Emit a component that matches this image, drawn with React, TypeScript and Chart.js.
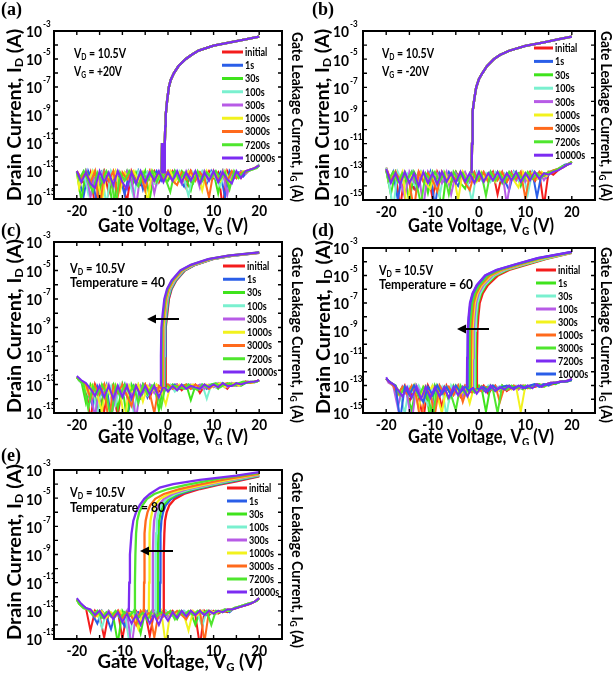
import React, { useEffect, useRef } from "react";
import { Chart, registerables } from "chart.js";

Chart.register(...registerables);

// ---------------- data ----------------
const SERIES = ["initial", "1s", "30s", "100s", "300s", "1000s", "3000s", "7200s", "10000s"];

const RED = "#f41c1c";
const BLUE = "#2a5ee8";
const GREEN = "#3fe31c";
const AQUA = "#7af0cf";
const ORCHID = "#b75be6";
const YELLOW = "#f2f21e";
const ORANGE = "#ff6a1c";
const GREEN2 = "#4fe62e";
const VIOLET = "#7c2cf2";

const COLORS_STD = [RED, BLUE, GREEN, AQUA, ORCHID, YELLOW, ORANGE, GREEN2, VIOLET];
const COLORS_D = [RED, GREEN, AQUA, ORCHID, YELLOW, ORANGE, GREEN2, VIOLET, BLUE];

const X_LABELS = [-20, -10, 0, 10, 20];
const X_MARKS = [-20, -15, -10, -5, 0, 5, 10, 15, 20];
const Y_LABELS = [-15, -13, -11, -9, -7, -5, -3];
const Y_MARKS = [-14, -13, -12, -11, -10, -9, -8, -7, -6, -5, -4];

// gate-voltage sampling of the gate leakage traces
const VG_INT = [-20, -19, -18, -17, -16, -15, -14, -13, -12, -11, -10, -9, -8, -7, -6, -5, -4, -3, -2, -1, 0, 1, 2, 3, 4, 5, 6, 7, 8, 9, 10, 11, 12, 13, 14, 15, 16, 17, 18, 19, 20];
const VG_HALF = [-20, -19.5, -18.5, -17.5, -16.5, -15.5, -14.5, -13.5, -12.5, -11.5, -10.5, -9.5, -8.5, -7.5, -6.5, -5.5, -4.5, -3.5, -2.5, -1.5, -0.5, 0.5, 1.5, 2.5, 3.5, 4.5, 5.5, 6.5, 7.5, 8.5, 9.5, 10.5, 11.5, 12.5, 13.5, 14.5, 15.5, 16.5, 17.5, 18.5, 19.5, 20];

// Drain current transfer curves: [VG, log10(ID)]
const ID_A = [[-1.4, -13.1], [-1.3, -11.0], [-1.2, -13.1], [-0.8, -13.1], [-0.7, -11.0], [-0.6, -9.8], [-0.5, -9.0], [-0.2, -8.0], [0.2, -7.0], [0.6, -6.5], [1.3, -6.0], [2.3, -5.5], [3.9, -5.0], [5.2, -4.7], [6.7, -4.4], [10, -4.05], [13.9, -3.8], [17, -3.6], [20, -3.4]];
const ID_B = [[-1.6, -13.1], [-1.5, -11.0], [-1.45, -9.5], [-1.3, -8.7], [-1.0, -7.8], [-0.6, -7.0], [0.0, -6.4], [0.7, -6.0], [1.7, -5.5], [3.2, -5.0], [4.5, -4.7], [6.5, -4.4], [10, -4.05], [14, -3.8], [17, -3.6], [20, -3.4]];

const ID_C = [
  [[-0.6, -13.1], [-0.55, -11], [-0.45, -9], [-0.15, -8], [0.2, -7], [0.8, -6.3], [1.8, -5.7], [3.7, -5.0], [6.0, -4.6], [9.8, -4.2], [14, -3.98], [20, -3.76]],
  [[-0.7, -13.1], [-0.65, -11], [-0.55, -9], [-0.25, -8], [0.1, -7], [0.7, -6.3], [1.7, -5.7], [3.6, -5.0], [5.9, -4.6], [9.7, -4.2], [13.9, -3.98], [20, -3.76]],
  [[-0.8, -13.1], [-0.75, -11], [-0.65, -9], [-0.35, -8], [0.0, -7], [0.6, -6.3], [1.6, -5.7], [3.5, -5.0], [5.8, -4.6], [9.6, -4.2], [13.8, -3.98], [20, -3.75]],
  [[-0.9, -13.1], [-0.85, -11], [-0.75, -9], [-0.45, -8], [-0.1, -7], [0.5, -6.3], [1.5, -5.7], [3.4, -5.0], [5.7, -4.6], [9.5, -4.2], [13.7, -3.97], [20, -3.75]],
  [[-1.0, -13.1], [-0.95, -11], [-0.85, -9], [-0.55, -8], [-0.2, -7], [0.4, -6.3], [1.4, -5.7], [3.3, -5.0], [5.6, -4.6], [9.4, -4.2], [13.6, -3.97], [20, -3.75]],
  [[-1.15, -13.1], [-1.1, -11], [-1.0, -9], [-0.7, -8], [-0.35, -7], [0.25, -6.3], [1.25, -5.7], [3.15, -5.0], [5.45, -4.6], [9.25, -4.2], [13.5, -3.96], [20, -3.74]],
  [[-1.3, -13.1], [-1.25, -11], [-1.15, -9], [-0.85, -8], [-0.5, -7], [0.1, -6.3], [1.1, -5.7], [3.0, -5.0], [5.3, -4.6], [9.1, -4.2], [13.4, -3.96], [20, -3.74]],
  [[-1.45, -13.1], [-1.4, -11], [-1.3, -9], [-1.0, -8], [-0.65, -7], [-0.05, -6.3], [0.95, -5.7], [2.85, -5.0], [5.15, -4.6], [8.95, -4.2], [13.3, -3.95], [20, -3.73]],
  [[-1.6, -13.1], [-1.55, -11], [-1.45, -9], [-1.15, -8], [-0.8, -7], [-0.2, -6.3], [0.8, -5.7], [2.7, -5.0], [5.0, -4.6], [8.8, -4.2], [13.2, -3.95], [20, -3.73]],
];

const ID_D = [
  [[-0.5, -13.1], [-0.45, -11], [-0.35, -9], [-0.15, -8], [0.15, -7], [0.8, -6.3], [1.9, -5.7], [4.1, -5.0], [6.5, -4.6], [10.5, -4.2], [14.5, -3.8], [20, -3.35]],
  [[-0.8, -13.1], [-0.75, -11], [-0.65, -9], [-0.45, -8], [-0.15, -7], [0.45, -6.3], [1.5, -5.7], [3.6, -5.0], [6.0, -4.6], [10, -4.2], [14.2, -3.8], [20, -3.34]],
  [[-1.0, -13.1], [-0.95, -11], [-0.85, -9], [-0.65, -8], [-0.35, -7], [0.25, -6.3], [1.25, -5.7], [3.3, -5.0], [5.7, -4.6], [9.7, -4.2], [14, -3.79], [20, -3.33]],
  [[-1.3, -13.1], [-1.25, -11], [-1.15, -9], [-0.95, -8], [-0.65, -7], [-0.1, -6.3], [0.9, -5.7], [2.9, -5.0], [5.3, -4.6], [9.3, -4.2], [13.7, -3.78], [20, -3.32]],
  [[-1.55, -13.1], [-1.5, -11], [-1.4, -9], [-1.2, -8], [-0.9, -7], [-0.35, -6.3], [0.6, -5.7], [2.6, -5.0], [5.0, -4.6], [9.0, -4.2], [13.5, -3.77], [20, -3.31]],
  [[-1.8, -13.1], [-1.75, -11], [-1.65, -9], [-1.45, -8], [-1.15, -7], [-0.6, -6.3], [0.35, -5.7], [2.3, -5.0], [4.7, -4.6], [8.7, -4.2], [13.2, -3.76], [20, -3.3]],
  [[-2.1, -13.1], [-2.05, -11], [-1.95, -9], [-1.75, -8], [-1.45, -7], [-0.9, -6.3], [0.05, -5.7], [1.9, -5.0], [4.3, -4.6], [8.3, -4.2], [13, -3.75], [20, -3.3]],
  [[-2.6, -13.1], [-2.55, -11], [-2.45, -9], [-2.25, -8], [-1.95, -7], [-1.4, -6.3], [-0.5, -5.7], [1.3, -5.0], [3.7, -4.6], [7.7, -4.2], [12.6, -3.74], [20, -3.28]],
  [[-2.5, -13.1], [-2.45, -11], [-2.35, -9], [-2.15, -8], [-1.85, -7], [-1.3, -6.3], [-0.4, -5.7], [1.4, -5.0], [3.8, -4.6], [7.8, -4.2], [12.7, -3.74], [20, -3.28]],
];

const ID_E = [
  [[-1.0, -13.1], [-0.95, -11], [-0.9, -9], [-0.8, -7.5], [-0.65, -6.6], [-0.3, -6.0], [0.3, -5.5], [1.5, -5.05], [3.5, -4.7], [7, -4.35], [11, -4.05], [15, -3.8], [20, -3.45]],
  [[-1.8, -13.1], [-1.75, -11], [-1.7, -9], [-1.6, -7.5], [-1.45, -6.6], [-1.1, -6.0], [-0.5, -5.5], [0.7, -5.05], [2.7, -4.7], [6.2, -4.35], [10.3, -4.05], [14.6, -3.78], [20, -3.42]],
  [[-2.3, -13.1], [-2.25, -11], [-2.2, -9], [-2.1, -7.5], [-1.95, -6.6], [-1.6, -6.0], [-1.0, -5.5], [0.2, -5.05], [2.2, -4.7], [5.7, -4.35], [9.8, -4.05], [14.3, -3.76], [20, -3.4]],
  [[-2.8, -13.1], [-2.75, -11], [-2.7, -9], [-2.6, -7.5], [-2.45, -6.6], [-2.1, -6.0], [-1.5, -5.5], [-0.3, -5.05], [1.6, -4.7], [5.1, -4.35], [9.2, -4.05], [14, -3.74], [20, -3.37]],
  [[-3.4, -13.1], [-3.35, -11], [-3.3, -9], [-3.2, -7.5], [-3.05, -6.6], [-2.7, -6.0], [-2.1, -5.5], [-0.9, -5.05], [1.0, -4.7], [4.4, -4.35], [8.6, -4.05], [13.6, -3.72], [20, -3.34]],
  [[-4.2, -13.1], [-4.15, -11], [-4.1, -9], [-4.0, -7.5], [-3.85, -6.6], [-3.5, -6.0], [-2.9, -5.5], [-1.7, -5.05], [0.2, -4.7], [3.6, -4.35], [7.8, -4.05], [13.2, -3.7], [20, -3.3]],
  [[-5.3, -13.1], [-5.25, -11], [-5.2, -9], [-5.1, -7.5], [-4.9, -6.6], [-4.5, -6.0], [-3.9, -5.5], [-2.8, -5.05], [-0.9, -4.7], [2.5, -4.35], [6.6, -4.05], [12.5, -3.66], [20, -3.26]],
  [[-7.3, -13.1], [-7.25, -11], [-7.15, -9], [-7.0, -7.5], [-6.75, -6.6], [-6.3, -6.0], [-5.6, -5.5], [-4.6, -5.05], [-3.0, -4.7], [0.0, -4.35], [4.0, -4.05], [11.5, -3.6], [20, -3.2]],
  [[-8.6, -13.1], [-8.5, -11], [-8.35, -9], [-8.0, -7.5], [-7.6, -6.6], [-7.0, -6.0], [-6.2, -5.5], [-5.2, -5.05], [-4.0, -4.7], [-1.8, -4.25], [1.1, -4.0], [7, -3.7], [15, -3.4], [20, -3.15]],
];

// Gate leakage current, log10(IG); even series on VG_INT, odd series on VG_HALF
const IG_A = [
  [-13.0, -13.6, -14.1, -13.1, -15.6, -13.7, -13.0, -14.6, -13.5, -13.1, -13.8, -15.2, -13.0, -13.7, -14.0, -13.1, -13.6, -13.0, -13.8, -13.1, -13.6, -13.0, -13.5, -13.1, -14.2, -13.0, -13.6, -13.1, -13.7, -13.0, -13.5, -13.1, -15.6, -13.0, -13.6, -13.1, -13.5, -13.0, -12.9, -12.8, -12.6],
  [-13.1, -13.7, -14.8, -13.0, -13.8, -15.4, -13.1, -13.6, -13.9, -13.0, -13.5, -14.7, -13.1, -13.8, -13.0, -14.3, -13.1, -13.6, -13.0, -13.7, -13.1, -13.5, -13.0, -13.6, -14.1, -13.0, -13.7, -13.1, -13.5, -13.9, -13.0, -13.6, -13.1, -14.9, -13.0, -13.5, -13.1, -13.4, -13.0, -12.9, -12.7, -12.6],
  [-13.1, -15.1, -13.0, -13.7, -13.1, -14.5, -13.0, -13.6, -15.8, -13.1, -13.7, -13.0, -14.2, -13.1, -13.8, -13.0, -15.0, -13.1, -13.6, -13.0, -13.7, -13.1, -13.5, -13.0, -13.6, -14.4, -13.1, -13.7, -13.0, -13.5, -13.1, -14.6, -13.0, -13.6, -13.1, -13.5, -13.0, -13.2, -12.9, -12.8, -12.6],
  [-13.0, -13.8, -13.1, -14.6, -13.0, -13.7, -13.1, -15.5, -13.0, -13.6, -13.9, -13.1, -13.7, -14.9, -13.0, -13.6, -13.1, -13.8, -14.0, -13.0, -13.6, -13.1, -13.7, -13.0, -13.5, -14.8, -13.1, -13.6, -13.0, -13.7, -13.1, -13.5, -14.1, -13.0, -13.6, -13.1, -13.4, -13.0, -13.0, -12.9, -12.7, -12.5],
  [-13.1, -13.7, -13.0, -14.9, -13.1, -13.8, -13.0, -13.6, -14.3, -13.1, -13.7, -13.0, -13.6, -15.6, -13.1, -13.7, -13.0, -14.6, -13.1, -13.6, -13.0, -13.7, -13.1, -13.9, -13.0, -13.6, -13.1, -14.2, -13.0, -13.5, -13.1, -13.7, -13.0, -14.7, -13.1, -13.5, -13.0, -13.2, -12.9, -12.8, -12.6],
  [-13.0, -14.2, -13.1, -13.7, -13.0, -13.6, -15.2, -13.1, -13.8, -13.0, -14.4, -13.1, -13.6, -13.0, -13.7, -13.1, -15.3, -13.0, -13.6, -13.1, -13.7, -13.0, -13.8, -13.1, -13.6, -13.0, -13.5, -13.1, -14.4, -13.0, -13.6, -13.1, -13.7, -13.0, -13.9, -13.1, -13.5, -13.0, -13.0, -12.9, -12.7, -12.6],
  [-13.0, -13.5, -13.1, -13.8, -13.0, -15.9, -13.1, -13.7, -13.0, -14.8, -13.1, -13.6, -13.0, -13.8, -13.1, -14.4, -13.0, -13.7, -13.1, -13.6, -13.0, -13.7, -14.0, -13.1, -13.6, -13.0, -13.7, -13.1, -13.5, -14.9, -13.0, -13.6, -13.1, -13.7, -13.0, -13.5, -13.1, -13.1, -12.9, -12.8, -12.6],
  [-13.1, -13.6, -13.0, -13.7, -14.5, -13.1, -13.8, -13.0, -13.6, -15.6, -13.1, -13.7, -13.0, -13.6, -14.1, -13.1, -13.7, -13.0, -13.8, -13.1, -13.6, -14.5, -13.0, -13.7, -13.1, -13.6, -13.9, -13.0, -13.7, -13.1, -13.5, -13.0, -13.6, -13.1, -14.3, -13.0, -13.5, -13.1, -13.0, -12.9, -12.8, -12.6],
  [-13.0, -13.8, -13.1, -13.9, -14.2, -13.0, -13.8, -13.1, -14.0, -13.0, -13.8, -14.3, -13.1, -13.9, -13.0, -13.8, -13.1, -13.7, -13.0, -13.8, -13.1, -13.7, -13.0, -13.8, -13.1, -13.7, -13.0, -13.9, -13.1, -13.7, -13.0, -13.8, -13.1, -13.6, -13.9, -13.0, -13.5, -13.0, -12.9, -12.8, -12.6],
];

const IG_B = [
  [-12.7, -13.6, -13.0, -15.6, -13.1, -13.7, -14.2, -13.0, -13.6, -13.1, -14.9, -13.0, -13.7, -13.1, -13.8, -13.0, -13.6, -13.1, -13.7, -13.0, -13.6, -13.1, -13.5, -13.0, -14.6, -13.1, -13.7, -13.0, -13.6, -13.1, -13.5, -13.0, -13.7, -13.1, -15.4, -13.0, -13.2, -12.9, -12.7, -12.5, -12.3],
  [-12.8, -13.7, -13.0, -15.0, -13.1, -13.6, -13.0, -14.4, -13.1, -13.8, -13.0, -15.5, -13.1, -13.7, -13.0, -13.6, -14.0, -13.1, -13.7, -13.0, -13.6, -13.1, -13.5, -13.0, -13.7, -13.1, -13.6, -14.3, -13.0, -13.6, -13.1, -13.5, -13.0, -14.8, -13.1, -13.4, -13.0, -12.9, -12.7, -12.5, -12.4, -12.3],
  [-12.9, -14.6, -13.0, -13.7, -13.1, -15.2, -13.0, -13.6, -13.1, -14.5, -13.0, -13.7, -15.7, -13.1, -13.6, -13.0, -13.8, -14.2, -13.1, -13.6, -13.0, -13.7, -13.1, -13.6, -13.0, -13.8, -13.1, -13.5, -13.0, -14.0, -13.1, -13.6, -13.0, -13.5, -13.1, -13.2, -12.9, -12.8, -12.6, -12.5, -12.3],
  [-12.7, -13.6, -15.6, -13.0, -13.7, -13.1, -13.6, -14.1, -13.0, -13.8, -13.1, -13.6, -14.7, -13.0, -13.7, -13.1, -13.6, -13.0, -13.7, -15.1, -13.0, -13.6, -13.1, -13.7, -13.0, -13.6, -13.1, -13.5, -13.0, -13.6, -13.1, -14.6, -13.0, -13.5, -13.1, -13.3, -13.0, -12.9, -12.7, -12.6, -12.4, -12.3],
  [-12.8, -13.7, -13.1, -13.6, -14.8, -13.0, -13.7, -13.1, -15.5, -13.0, -13.6, -13.1, -13.8, -13.0, -14.6, -13.1, -13.6, -13.0, -13.7, -13.1, -13.6, -13.0, -13.7, -13.1, -13.5, -13.0, -15.3, -13.1, -13.6, -13.0, -13.7, -13.1, -13.5, -13.0, -13.6, -13.1, -13.0, -12.8, -12.7, -12.5, -12.3],
  [-12.8, -13.6, -13.1, -13.7, -13.0, -15.8, -13.1, -13.6, -13.0, -13.8, -14.2, -13.1, -13.6, -13.0, -13.7, -13.1, -15.0, -13.0, -13.6, -13.1, -13.7, -13.0, -13.6, -13.1, -13.7, -13.0, -13.5, -13.1, -13.6, -14.1, -13.0, -13.6, -13.1, -13.5, -13.0, -13.3, -13.0, -12.9, -12.7, -12.6, -12.4, -12.3],
  [-12.9, -13.7, -13.0, -13.6, -13.1, -13.8, -15.7, -13.0, -13.7, -13.1, -13.6, -14.4, -13.0, -13.7, -13.1, -13.6, -13.0, -13.8, -14.3, -13.1, -13.6, -13.0, -13.7, -13.1, -13.6, -13.0, -13.7, -13.1, -13.5, -13.0, -14.9, -13.1, -13.6, -13.0, -13.3, -13.0, -12.9, -12.8, -12.7, -12.5, -12.3],
  [-12.9, -13.6, -13.0, -13.7, -13.1, -13.6, -13.0, -13.8, -15.3, -13.1, -13.6, -13.0, -13.7, -13.1, -14.6, -13.0, -13.6, -13.1, -13.7, -13.0, -13.6, -13.1, -14.7, -13.0, -13.6, -13.1, -13.7, -13.0, -13.5, -13.1, -13.6, -13.0, -13.5, -13.1, -13.4, -13.1, -13.0, -12.9, -12.7, -12.6, -12.4, -12.3],
  [-12.8, -13.8, -13.1, -13.9, -13.0, -13.8, -13.1, -14.0, -13.0, -13.8, -13.1, -13.9, -13.0, -13.7, -13.1, -13.8, -13.0, -13.7, -13.1, -13.8, -13.0, -13.7, -13.1, -13.6, -13.0, -13.7, -13.1, -13.6, -13.0, -13.7, -13.1, -13.6, -13.0, -13.5, -13.1, -13.2, -13.0, -12.9, -12.7, -12.5, -12.4],
];

const IG_C = [
  [-12.5, -12.8, -13.1, -15.6, -13.0, -13.8, -14.9, -13.1, -13.7, -15.2, -13.0, -13.8, -14.1, -13.1, -13.7, -13.0, -13.9, -13.1, -13.5, -13.0, -13.4, -13.1, -13.0, -13.4, -13.1, -13.3, -13.0, -13.6, -13.1, -13.3, -13.0, -13.2, -13.0, -13.3, -12.9, -13.1, -12.9, -12.8, -12.9, -12.8, -12.7],
  [-12.5, -12.7, -13.0, -13.6, -14.5, -13.1, -13.7, -13.0, -15.4, -13.1, -13.8, -13.0, -14.6, -13.1, -13.7, -13.0, -13.9, -13.1, -13.6, -13.0, -13.4, -13.1, -13.0, -13.3, -13.1, -13.0, -13.3, -13.1, -13.0, -13.3, -13.0, -13.2, -12.9, -13.2, -13.0, -12.9, -13.1, -12.9, -12.8, -12.9, -12.8, -12.7],
  [-12.5, -12.8, -14.3, -13.0, -13.7, -15.7, -13.1, -13.6, -13.0, -14.7, -13.1, -15.5, -13.0, -13.7, -14.0, -13.1, -13.6, -13.0, -14.8, -13.1, -13.3, -13.0, -13.4, -13.1, -13.0, -14.1, -13.1, -13.3, -13.0, -13.2, -13.0, -13.3, -12.9, -13.1, -13.0, -12.9, -13.1, -12.9, -12.8, -12.8, -12.7],
  [-12.5, -12.7, -13.0, -13.7, -13.1, -15.3, -13.0, -13.8, -13.1, -14.4, -13.0, -13.7, -13.1, -15.0, -13.0, -13.6, -13.8, -13.1, -13.6, -13.0, -13.3, -13.0, -13.5, -13.1, -13.3, -13.0, -13.2, -13.3, -13.0, -14.0, -13.0, -13.2, -12.9, -13.1, -13.0, -12.9, -13.1, -12.9, -12.8, -12.9, -12.8, -12.7],
  [-12.5, -12.8, -13.0, -13.7, -15.2, -13.1, -13.8, -13.0, -14.6, -13.1, -13.7, -13.0, -13.6, -15.4, -13.1, -13.7, -13.0, -13.6, -13.1, -13.5, -13.0, -13.3, -13.0, -13.2, -13.3, -13.0, -13.2, -13.0, -13.3, -13.0, -13.2, -12.9, -13.1, -13.2, -12.9, -13.1, -12.9, -12.8, -12.9, -12.8, -12.7],
  [-12.5, -12.7, -12.9, -13.6, -13.0, -13.7, -14.9, -13.1, -13.8, -13.0, -13.6, -15.6, -13.1, -13.7, -13.0, -14.2, -13.1, -13.5, -13.0, -13.4, -14.4, -13.1, -13.3, -13.0, -13.2, -13.1, -13.0, -13.3, -13.1, -13.0, -13.2, -13.0, -12.9, -13.2, -13.0, -12.9, -13.1, -12.9, -12.8, -12.9, -12.8, -12.7],
  [-12.5, -12.8, -13.0, -14.0, -13.1, -13.7, -13.0, -15.8, -13.1, -13.6, -13.0, -13.8, -14.5, -13.1, -13.7, -13.0, -13.6, -15.0, -13.1, -13.4, -13.0, -13.3, -13.1, -13.2, -13.0, -13.3, -13.0, -13.2, -13.0, -13.3, -13.0, -13.2, -13.0, -12.9, -13.1, -13.0, -12.9, -12.8, -12.9, -12.8, -12.7],
  [-12.5, -12.7, -13.0, -14.7, -13.1, -13.7, -13.0, -13.6, -15.5, -13.1, -13.8, -13.0, -13.6, -13.1, -14.3, -13.0, -13.7, -13.1, -13.5, -14.6, -13.0, -13.3, -13.1, -13.2, -13.3, -13.0, -13.2, -13.4, -13.0, -13.2, -13.0, -12.9, -13.2, -13.0, -12.9, -13.1, -12.9, -12.8, -12.9, -12.8, -12.8, -12.7],
  [-12.4, -12.7, -12.9, -13.3, -13.8, -13.1, -13.9, -13.1, -14.0, -13.1, -13.9, -13.1, -14.0, -13.1, -13.8, -13.1, -13.7, -13.1, -13.9, -13.1, -13.5, -13.1, -13.4, -13.0, -13.3, -13.1, -13.2, -13.3, -13.0, -13.2, -13.0, -13.2, -12.9, -13.1, -13.1, -12.9, -13.0, -12.9, -12.8, -12.8, -12.7],
];

const IG_D = [
  [-12.5, -12.8, -13.1, -13.7, -13.0, -14.2, -13.1, -13.8, -15.5, -13.0, -13.7, -13.1, -14.6, -13.0, -13.7, -13.1, -13.8, -13.0, -13.5, -13.1, -13.4, -13.0, -13.6, -13.1, -13.3, -13.0, -13.4, -13.1, -13.2, -13.0, -13.2, -13.0, -13.1, -13.0, -12.9, -13.0, -12.9, -12.8, -12.7, -12.7, -12.6],
  [-12.5, -12.7, -13.0, -13.6, -13.1, -13.7, -14.8, -13.0, -13.6, -13.1, -15.6, -13.0, -13.7, -13.1, -14.1, -13.0, -13.6, -13.1, -13.7, -13.0, -13.5, -13.1, -14.9, -13.0, -13.4, -13.1, -13.3, -13.0, -13.2, -13.1, -13.3, -13.0, -13.1, -12.9, -13.1, -12.9, -12.8, -12.9, -12.7, -12.7, -12.6, -12.5],
  [-12.5, -12.8, -13.0, -13.7, -15.0, -13.1, -13.6, -13.0, -13.8, -14.4, -13.0, -13.7, -13.1, -15.2, -13.0, -13.6, -13.1, -13.7, -13.0, -13.5, -13.1, -13.4, -13.0, -13.3, -13.1, -13.0, -13.3, -13.1, -13.0, -13.2, -13.0, -13.1, -12.9, -13.1, -12.9, -13.0, -12.8, -12.8, -12.7, -12.7, -12.6],
  [-12.5, -12.8, -13.0, -14.6, -13.1, -13.7, -15.7, -13.0, -13.6, -13.1, -13.7, -14.5, -13.0, -13.6, -13.1, -13.7, -13.0, -13.8, -13.1, -13.5, -13.0, -13.4, -13.1, -13.3, -13.0, -13.4, -13.1, -13.2, -13.0, -13.3, -13.0, -13.1, -13.0, -12.9, -13.1, -12.9, -12.8, -12.8, -12.7, -12.7, -12.6, -12.5],
  [-12.5, -12.8, -13.0, -13.6, -13.1, -13.7, -13.0, -14.7, -13.1, -13.6, -13.0, -13.7, -15.0, -13.1, -13.6, -13.0, -13.7, -13.1, -14.3, -13.0, -13.4, -13.1, -13.3, -13.0, -13.4, -13.1, -13.0, -13.3, -13.1, -14.9, -13.0, -13.2, -13.0, -12.9, -13.1, -12.9, -12.8, -12.8, -12.7, -12.7, -12.6],
  [-12.5, -12.7, -13.0, -13.7, -13.1, -13.6, -13.0, -13.8, -15.8, -13.1, -13.7, -15.1, -13.0, -13.6, -13.1, -13.7, -13.0, -14.2, -13.1, -13.5, -13.0, -13.4, -13.1, -13.3, -13.0, -14.2, -13.1, -13.3, -13.0, -13.2, -13.0, -13.2, -13.0, -12.9, -13.1, -12.9, -12.8, -12.8, -12.7, -12.7, -12.6, -12.5],
  [-12.5, -12.8, -13.0, -13.7, -13.1, -13.6, -13.0, -13.8, -13.1, -13.7, -15.4, -13.0, -13.6, -13.1, -13.7, -14.8, -13.0, -13.6, -13.1, -13.5, -13.0, -13.4, -13.1, -13.3, -15.0, -13.0, -13.3, -13.0, -13.2, -13.1, -13.0, -13.2, -13.0, -12.9, -13.1, -12.9, -12.8, -12.8, -12.7, -12.7, -12.6],
  [-12.4, -12.7, -12.9, -13.3, -13.8, -13.1, -13.9, -13.1, -14.0, -13.1, -13.9, -13.1, -13.8, -13.1, -13.9, -13.1, -13.7, -13.1, -13.8, -13.1, -13.6, -13.1, -13.5, -13.0, -13.4, -13.1, -13.3, -13.0, -13.3, -13.0, -13.2, -13.0, -13.2, -12.9, -13.1, -12.9, -12.8, -12.8, -12.7, -12.7, -12.6, -12.5],
  [-12.5, -12.8, -13.0, -15.5, -13.1, -13.7, -13.0, -13.6, -14.2, -13.1, -13.7, -13.0, -13.6, -13.1, -13.7, -13.0, -13.5, -13.1, -13.4, -13.0, -13.3, -13.1, -13.4, -13.0, -13.3, -13.1, -13.0, -13.2, -13.1, -13.0, -13.2, -13.0, -12.9, -13.1, -12.9, -13.0, -12.8, -12.8, -12.7, -12.7, -12.6],
];

const IG_E = [
  [-12.2, -12.6, -12.8, -14.4, -13.0, -13.4, -14.9, -13.1, -13.4, -13.0, -15.0, -13.1, -13.4, -13.0, -13.5, -13.1, -14.8, -13.0, -13.4, -13.1, -13.3, -13.0, -13.4, -13.1, -13.3, -13.0, -13.3, -15.5, -13.0, -13.3, -13.0, -13.2, -13.0, -13.1, -12.9, -12.8, -12.7, -12.6, -12.5, -12.35, -12.1],
  [-12.2, -12.5, -12.8, -12.9, -13.3, -13.9, -13.0, -13.4, -14.3, -13.1, -13.5, -14.1, -13.0, -13.4, -13.1, -13.5, -13.0, -13.4, -13.1, -13.3, -13.0, -13.4, -13.1, -13.3, -13.0, -13.3, -13.1, -13.2, -13.0, -13.3, -13.0, -13.2, -13.0, -12.9, -13.1, -12.8, -12.7, -12.6, -12.5, -12.4, -12.3, -12.1],
  [-12.2, -12.6, -12.8, -13.0, -13.4, -13.1, -13.6, -13.0, -13.4, -15.3, -13.0, -13.5, -13.1, -13.4, -14.6, -13.0, -13.4, -13.1, -13.5, -13.0, -13.4, -13.1, -13.6, -13.0, -13.3, -13.1, -14.0, -13.0, -13.3, -13.0, -13.2, -13.0, -13.1, -13.0, -12.9, -12.8, -12.7, -12.6, -12.5, -12.35, -12.1],
  [-12.2, -12.5, -12.8, -12.9, -13.3, -13.0, -14.2, -13.1, -13.4, -13.0, -13.5, -13.1, -15.2, -13.0, -13.4, -13.1, -13.5, -13.0, -13.4, -13.6, -13.0, -13.4, -13.1, -13.3, -13.0, -13.3, -13.1, -13.2, -14.1, -13.0, -13.2, -13.0, -13.1, -12.9, -13.0, -12.8, -12.7, -12.6, -12.5, -12.4, -12.3, -12.1],
  [-12.2, -12.6, -12.8, -13.0, -13.4, -13.1, -13.5, -13.0, -13.4, -13.1, -13.6, -13.0, -15.6, -13.1, -13.5, -13.0, -13.4, -13.1, -13.5, -13.0, -13.4, -13.1, -13.3, -13.0, -13.3, -13.1, -13.2, -13.0, -13.3, -13.0, -13.2, -13.0, -13.1, -12.9, -12.9, -12.8, -12.7, -12.6, -12.5, -12.35, -12.1],
  [-12.2, -12.5, -12.8, -12.9, -13.0, -13.4, -13.0, -13.5, -13.1, -13.4, -13.0, -13.5, -13.1, -13.4, -14.3, -13.0, -13.4, -13.1, -13.5, -13.0, -15.4, -13.1, -13.3, -13.0, -13.3, -14.4, -13.0, -13.3, -13.0, -13.2, -13.0, -13.2, -13.0, -12.9, -13.0, -12.8, -12.7, -12.6, -12.5, -12.4, -12.3, -12.1],
  [-12.2, -12.6, -12.8, -13.0, -13.4, -13.0, -13.5, -13.1, -13.4, -13.0, -13.5, -13.1, -13.4, -14.0, -13.0, -13.4, -13.1, -14.9, -13.0, -13.4, -13.1, -13.3, -13.0, -13.3, -13.6, -13.0, -13.3, -13.0, -15.2, -13.0, -13.2, -13.0, -13.1, -12.9, -12.9, -12.8, -12.7, -12.6, -12.5, -12.35, -12.1],
  [-12.2, -12.5, -12.8, -12.9, -13.3, -13.0, -13.5, -13.1, -13.4, -13.0, -13.5, -13.1, -13.4, -13.0, -13.5, -13.1, -13.7, -13.0, -13.4, -13.1, -13.3, -13.0, -13.6, -13.0, -13.3, -13.0, -13.3, -13.0, -13.2, -13.0, -14.0, -13.0, -13.1, -12.9, -13.0, -12.8, -12.7, -12.6, -12.5, -12.4, -12.3, -12.1],
  [-12.1, -12.5, -12.8, -12.9, -13.3, -13.0, -13.5, -13.1, -13.6, -13.1, -13.8, -13.2, -13.9, -13.3, -14.0, -13.2, -13.9, -13.3, -14.0, -13.2, -13.7, -13.1, -13.5, -13.0, -13.4, -13.0, -13.3, -13.0, -13.3, -13.0, -13.2, -13.0, -13.1, -12.9, -12.9, -12.8, -12.7, -12.6, -12.5, -12.35, -12.1],
];

// ---------------- layout / drawing ----------------
const FONT = "Lato, 'Open Sans', 'DejaVu Sans', sans-serif";
const SERIF = "'Liberation Serif', 'DejaVu Serif', serif";

type Seg = { t: string; sub?: boolean };

interface Panel {
  key: string;
  label: string;
  box: number[];
  area: number[];
  colors: string[];
  rank: number[];
  id: number[][][];
  ig: number[][];
  ann: Seg[][];
  annFit: number[];
  annX: number;
  annY: number[];
  leg: { x0: number; x1: number; tx: number; y0: number; dy: number };
  arrow?: number[];
  lab: number[];
  yT: number[];
  rT: number[];
  xT: number[];
  gap: number;
}

const VD: Seg[] = [{ t: "V" }, { t: "D", sub: true }, { t: " = 10.5V" }];
const RANK_STD = [0, 1, 2, 3, 4, 5, 6, 7, 8];
const RANK_D = [0, 1, 2, 3, 4, 5, 6, 8, 7];

const PANELS: Panel[] = [
  {
    key: "a", label: "(a)", box: [0, 0, 306, 236], area: [54, 31, 282, 199],
    colors: COLORS_STD, rank: RANK_STD, id: SERIES.map(() => ID_A), ig: IG_A,
    ann: [VD, [{ t: "V" }, { t: "G", sub: true }, { t: " = +20V" }]], annFit: [52, 48], annX: 74, annY: [53, 71],
    leg: { x0: 222, x1: 243, tx: 245, y0: 52, dy: 13.25 },
    lab: [1, 9], yT: [14, 115, 172], rT: [297, 117, 170], xT: [173, 226, 150], gap: 12,
  },
  {
    key: "b", label: "(b)", box: [306, 0, 310, 236], area: [363, 31, 595, 200],
    colors: COLORS_STD, rank: RANK_STD, id: SERIES.map(() => ID_B), ig: IG_B,
    ann: [VD, [{ t: "V" }, { t: "G", sub: true }, { t: " = -20V" }]], annFit: [52, 47], annX: 382, annY: [53, 71],
    leg: { x0: 534, x1: 553, tx: 555, y0: 48, dy: 13.4 },
    lab: [312, 9], yT: [322, 115, 172], rT: [606, 116, 170], xT: [481, 226, 146], gap: 14,
  },
  {
    key: "c", label: "(c)", box: [0, 220, 306, 225], area: [54, 242, 282, 413],
    colors: COLORS_STD, rank: RANK_STD, id: ID_C, ig: IG_C,
    ann: [VD, [{ t: "Temperature = 40" }]], annFit: [55, 95], annX: 70, annY: [268, 282],
    leg: { x0: 223, x1: 245, tx: 247, y0: 266, dy: 13.25 }, arrow: [179, 147, 319],
    lab: [1, 230], yT: [14, 326, 174], rT: [297, 335, 176], xT: [173, 437, 150], gap: 12,
  },
  {
    key: "d", label: "(d)", box: [306, 220, 310, 225], area: [363, 248, 595, 413],
    colors: COLORS_D, rank: RANK_D, id: ID_D, ig: IG_D,
    ann: [VD, [{ t: "Temperature = 60" }]], annFit: [54, 94], annX: 379, annY: [270, 284],
    leg: { x0: 536, x1: 556, tx: 558, y0: 270, dy: 13 }, arrow: [489, 457, 329],
    lab: [312, 230], yT: [323, 327, 174], rT: [606, 335, 176], xT: [481, 437, 146], gap: 14,
  },
  {
    key: "e", label: "(e)", box: [0, 445, 306, 229], area: [54, 470, 282, 639],
    colors: COLORS_STD, rank: RANK_STD, id: ID_E, ig: IG_E,
    ann: [VD, [{ t: "Temperature = 80" }]], annFit: [55, 95], annX: 70, annY: [492, 507],
    leg: { x0: 227, x1: 247, tx: 249, y0: 488, dy: 13 }, arrow: [173, 140, 551],
    lab: [1, 455], yT: [14, 552, 176], rT: [297, 560, 176], xT: [180, 662, 165], gap: 12,
  },
];

function drawRich(
  ctx: CanvasRenderingContext2D,
  segs: Seg[],
  x: number,
  y: number,
  o: { size: number; rot?: number; align?: "left" | "center" | "right"; fit?: number; squeeze?: number; family?: string; color?: string }
) {
  const fam = o.family || FONT;
  const fonts = segs.map((s) => `bold ${s.sub ? Math.round(o.size * 0.62) : o.size}px ${fam}`);
  const widths = segs.map((s, i) => {
    ctx.font = fonts[i];
    return ctx.measureText(s.t).width;
  });
  const total = widths.reduce((a, b) => a + b, 0);
  const sx = o.fit ? o.fit / total : o.squeeze || 1;
  ctx.save();
  ctx.translate(x, y);
  if (o.rot) ctx.rotate(o.rot);
  ctx.scale(sx, 1);
  ctx.fillStyle = o.color || "#000";
  ctx.textBaseline = "alphabetic";
  ctx.textAlign = "left";
  let cx = o.align === "center" ? -total / 2 : o.align === "right" ? -total : 0;
  const base = o.size * 0.36;
  segs.forEach((s, i) => {
    ctx.font = fonts[i];
    ctx.fillText(s.t, cx, base + (s.sub ? o.size * 0.12 : 0));
    cx += widths[i];
  });
  ctx.restore();
}

function PanelChart({ p }: { p: Panel }) {
  const ref = useRef<HTMLCanvasElement>(null);
  useEffect(() => {
    const canvas = ref.current;
    if (!canvas) return;
    const [cl, ct, cw, ch] = p.box;
    const [al, at, ar, ab] = p.area;
    const datasets: any[] = [];
    for (let k = 0; k < SERIES.length; k++) {
      const grid = k % 2 === 0 ? VG_INT : VG_HALF;
      const color = p.colors[k];
      const r = p.rank[k];
      datasets.push({
        label: SERIES[k] + " IG",
        data: p.ig[k].filter((_, i) => i < grid.length).map((e, i) => ({ x: grid[i], y: Math.pow(10, e) })),
        borderColor: color,
        backgroundColor: color,
        borderWidth: 2,
        pointRadius: 0,
        order: 100 - r,
      });
      datasets.push({
        label: SERIES[k],
        data: p.id[k].map((pt) => ({ x: pt[0], y: Math.pow(10, pt[1]) })),
        borderColor: color,
        backgroundColor: color,
        borderWidth: 2.3,
        pointRadius: 0,
        order: 50 - r,
      });
    }

    const decor = {
      id: "decor",
      afterDraw(chart: any) {
        const ctx: CanvasRenderingContext2D = chart.ctx;
        const xs = chart.scales.x;
        const ys = chart.scales.y;
        const ca = chart.chartArea;
        const L = (px: number) => px - cl;
        const T = (py: number) => py - ct;
        ctx.save();
        ctx.strokeStyle = "#000";
        ctx.lineWidth = 2;
        ctx.strokeRect(ca.left, ca.top, ca.right - ca.left, ca.bottom - ca.top);
        ctx.lineWidth = 1.4;
        ctx.beginPath();
        X_MARKS.forEach((v) => {
          const px = xs.getPixelForValue(v);
          ctx.moveTo(px, ca.bottom);
          ctx.lineTo(px, ca.bottom - 4);
          ctx.moveTo(px, ca.top);
          ctx.lineTo(px, ca.top + 4);
        });
        Y_MARKS.forEach((e) => {
          const py = ys.getPixelForValue(Math.pow(10, e));
          ctx.moveTo(ca.left, py);
          ctx.lineTo(ca.left + 4, py);
          ctx.moveTo(ca.right, py);
          ctx.lineTo(ca.right - 4, py);
        });
        ctx.stroke();
        X_LABELS.forEach((v) => {
          const px = xs.getPixelForValue(v);
          drawRich(ctx, [{ t: String(v) }], px, ca.bottom + 11, { size: 16, align: "center", squeeze: 0.85 });
        });
        Y_LABELS.forEach((e) => {
          const py = ys.getPixelForValue(Math.pow(10, e));
          const xr = ca.left - p.gap;
          drawRich(ctx, [{ t: "10" }], xr, py + 1, { size: 15, align: "right", squeeze: 0.92 });
          drawRich(ctx, [{ t: String(e) }], xr + 1, py - 7, { size: 9, align: "left", squeeze: 0.9 });
        });
        drawRich(ctx, [{ t: "Drain Current, I" }, { t: "D", sub: true }, { t: " (A)" }], L(p.yT[0]), T(p.yT[1]), {
          size: 19, rot: -Math.PI / 2, align: "center", fit: p.yT[2],
        });
        drawRich(ctx, [{ t: "Gate Leakage Current, I" }, { t: "G", sub: true }, { t: " (A)" }], L(p.rT[0]), T(p.rT[1]), {
          size: 15, rot: Math.PI / 2, align: "center", fit: p.rT[2],
        });
        drawRich(ctx, [{ t: "Gate Voltage, V" }, { t: "G", sub: true }, { t: " (V)" }], L(p.xT[0]), T(p.xT[1]), {
          size: 18, align: "center", fit: p.xT[2],
        });
        drawRich(ctx, [{ t: p.label }], L(p.lab[0]), T(p.lab[1]), { size: 18, family: SERIF });
        p.ann.forEach((segs, i) => {
          drawRich(ctx, segs, L(p.annX), T(p.annY[i]), { size: 14, fit: p.annFit[i] });
        });
        SERIES.forEach((name, k) => {
          const y = T(p.leg.y0 + k * p.leg.dy);
          ctx.strokeStyle = p.colors[k];
          ctx.lineWidth = 3;
          ctx.beginPath();
          ctx.moveTo(L(p.leg.x0), y);
          ctx.lineTo(L(p.leg.x1), y);
          ctx.stroke();
          drawRich(ctx, [{ t: name }], L(p.leg.tx), y, { size: 11, squeeze: 0.82 });
        });
        if (p.arrow) {
          const [x1, x2, ay] = p.arrow;
          const y = T(ay);
          ctx.strokeStyle = "#000";
          ctx.fillStyle = "#000";
          ctx.lineWidth = 2;
          ctx.beginPath();
          ctx.moveTo(L(x1), y);
          ctx.lineTo(L(x2) + 6, y);
          ctx.stroke();
          ctx.beginPath();
          ctx.moveTo(L(x2), y);
          ctx.lineTo(L(x2) + 9, y - 4.5);
          ctx.lineTo(L(x2) + 9, y + 4.5);
          ctx.closePath();
          ctx.fill();
        }
        ctx.restore();
      },
    };

    const chart = new Chart(canvas, {
      type: "line",
      data: { datasets },
      options: {
        responsive: false,
        maintainAspectRatio: false,
        animation: false,
        events: [],
        layout: { padding: { left: al - cl, top: at - ct, right: cl + cw - ar, bottom: ct + ch - ab } },
        plugins: { legend: { display: false }, tooltip: { enabled: false }, title: { display: false } },
        elements: { line: { tension: 0 } },
        scales: {
          x: { type: "linear", min: -25, max: 25, display: false },
          y: { type: "logarithmic", min: 1e-15, max: 1e-3, display: false },
        },
      } as any,
      plugins: [decor],
    });
    return () => chart.destroy();
  }, [p]);
  const [cl, ct, cw, ch] = p.box;
  return (
    <canvas
      ref={ref}
      width={cw}
      height={ch}
      style={{ position: "absolute", left: cl, top: ct, width: cw, height: ch }}
    />
  );
}

export default function App() {
  return (
    <div style={{ position: "absolute", left: 0, top: 0, width: 616, height: 674, background: "#fff", overflow: "hidden" }}>
      {PANELS.map((p) => (
        <PanelChart key={p.key} p={p} />
      ))}
    </div>
  );
}
